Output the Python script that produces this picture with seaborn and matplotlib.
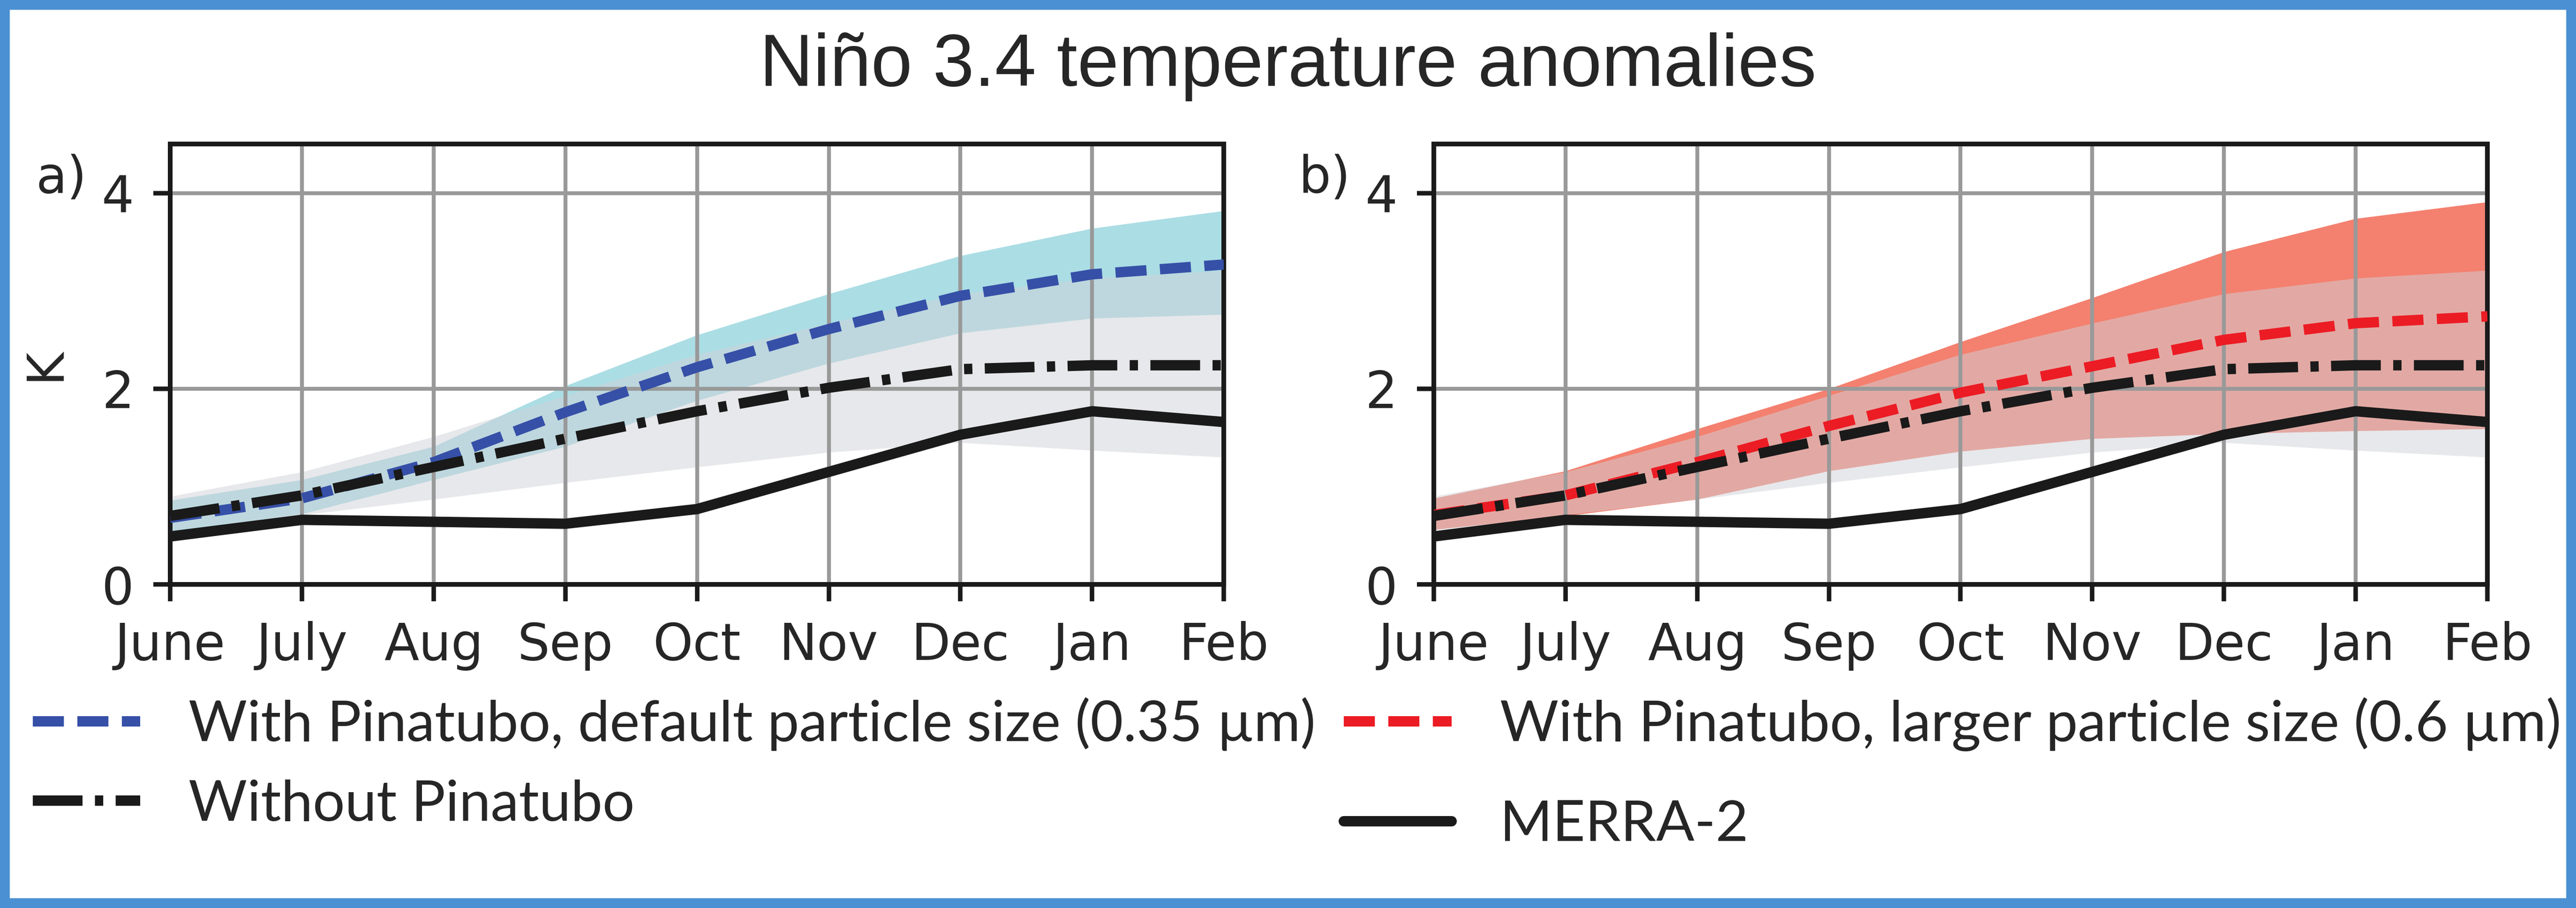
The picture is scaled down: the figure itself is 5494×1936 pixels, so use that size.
import seaborn as sns
import pandas as pd
import numpy as np
import matplotlib.pyplot as plt
from matplotlib.patches import Rectangle

# months after the eruption
months = ['June', 'July', 'Aug', 'Sep', 'Oct', 'Nov', 'Dec', 'Jan', 'Feb']

# ensemble means (K)
merra2 = [0.49, 0.66, 0.64, 0.62, 0.77, 1.15, 1.53, 1.77, 1.66]
no_pinatubo = [0.70, 0.91, 1.20, 1.49, 1.77, 2.01, 2.20, 2.24, 2.24]
default_size = [0.68, 0.88, 1.25, 1.76, 2.22, 2.61, 2.95, 3.17, 3.27]
larger_size = [0.71, 0.91, 1.25, 1.62, 1.96, 2.23, 2.50, 2.67, 2.74]

# ensemble spread
no_pin_hi = [0.90, 1.15, 1.51, 1.93, 2.35, 2.67, 2.97, 3.13, 3.21]
no_pin_lo = [0.55, 0.71, 0.87, 1.04, 1.20, 1.35, 1.45, 1.37, 1.30]
default_hi = [0.86, 1.07, 1.41, 2.03, 2.55, 2.97, 3.36, 3.64, 3.82]
default_lo = [0.54, 0.72, 1.07, 1.41, 1.88, 2.26, 2.57, 2.72, 2.76]
larger_hi = [0.88, 1.16, 1.59, 2.00, 2.48, 2.93, 3.40, 3.74, 3.91]
larger_lo = [0.56, 0.70, 0.87, 1.16, 1.36, 1.49, 1.54, 1.57, 1.59]

data = pd.DataFrame({'month': np.arange(len(months)), 'merra2': merra2,
                     'no_pin': no_pinatubo, 'default': default_size, 'larger': larger_size})

sns.set_style('ticks')
plt.rcParams['font.family'] = ['DejaVu Sans']

LW = 5.3
DASH = (0, (3.0, 1.3))
DASHDOT = (0, (4.8, 1.2, 0.8, 1.2))

fig = plt.figure(figsize=(5494 / 300, 1936 / 300), dpi=300)
ax_a = fig.add_axes([0.0661, 0.3564, 0.409, 0.4848])
ax_b = fig.add_axes([0.5566, 0.3564, 0.409, 0.4848])

panels = [(ax_a, 'a)', 'default', default_lo, default_hi, '#abdde4', '#3650a8'),
          (ax_b, 'b)', 'larger', larger_lo, larger_hi, '#f4806f', '#ec1c24')]

for ax, tag, col, lo, hi, band_col, line_col in panels:
    ax.fill_between(data['month'], lo, hi, color=band_col, lw=0, zorder=0.3)
    ax.fill_between(data['month'], no_pin_lo, no_pin_hi, color='#d1d3d9', alpha=0.5, lw=0, zorder=0.4)
    sns.lineplot(x='month', y='merra2', data=data, ax=ax, color='#1a1a1a', linewidth=LW, zorder=3)
    sns.lineplot(x='month', y='no_pin', data=data, ax=ax, color='#1a1a1a', linewidth=LW,
                 linestyle=DASHDOT, zorder=4)
    sns.lineplot(x='month', y=col, data=data, ax=ax, color=line_col, linewidth=LW,
                 linestyle=DASH, zorder=3.5)

    ax.set_xlim(0, 8)
    ax.set_ylim(0, 4.5)
    ax.set_xticks(data['month'])
    ax.set_xticklabels(months)
    ax.set_yticks([0, 2, 4])
    ax.set_axisbelow(True)
    ax.grid(True, color='#999999', lw=2.0)
    ax.tick_params(length=8.6, width=2.3, pad=10, labelsize=26, color='#1a1a1a')
    for s in ax.spines.values():
        s.set_linewidth(2.4)
        s.set_color('#1a1a1a')
    ax.set_xlabel('')
    ax.set_ylabel('')
    ax.text(-0.079, 0.89, tag, transform=ax.transAxes, ha='right', va='baseline', fontsize=26)

ax_a.set_ylabel('K', fontsize=26)
ax_a.yaxis.set_label_coords(-0.095, 0.5)

# legends below each panel
h = ax_a.get_lines()
leg1 = fig.legend([h[2], h[1]], ['With Pinatubo, default particle size (0.35 µm)', 'Without Pinatubo'],
                  loc='upper left', bbox_to_anchor=(0.0127, 0.232), frameon=False,
                  prop={'family': 'Lato', 'size': 29}, handlelength=1.9, handletextpad=0.85,
                  labelspacing=0.5, borderpad=0, borderaxespad=0)
h = ax_b.get_lines()
leg2 = fig.legend([h[2], h[0]], ['With Pinatubo, larger particle size (0.6 µm)', 'MERRA-2'],
                  loc='upper left', bbox_to_anchor=(0.5217, 0.232), frameon=False,
                  prop={'family': 'Lato', 'size': 29}, handlelength=1.9, handletextpad=0.85,
                  labelspacing=0.85, borderpad=0, borderaxespad=0)

fig.text(0.5, 0.9055, 'Niño 3.4 temperature anomalies', ha='center', va='baseline',
         fontsize=38, family='Liberation Sans')

fig.patches.append(Rectangle((0, 0), 1, 1, transform=fig.transFigure, fill=False,
                             edgecolor='#4a90d2', linewidth=10))

fig.savefig('out.png', dpi=300)
